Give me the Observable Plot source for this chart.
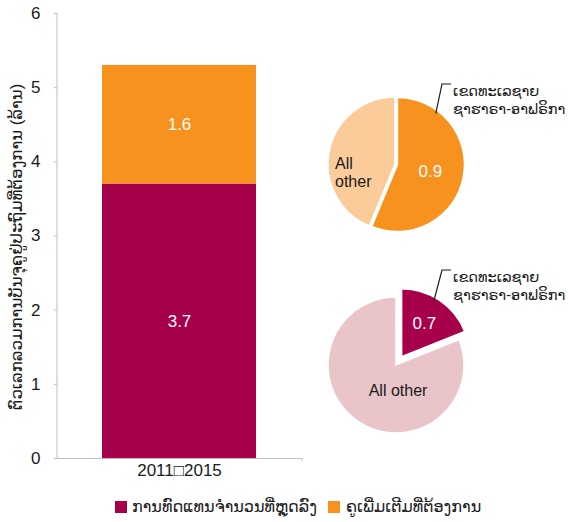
<!DOCTYPE html>
<html><head><meta charset="utf-8">
<script src="https://cdn.jsdelivr.net/npm/d3@7"></script>
<script src="https://cdn.jsdelivr.net/npm/@observablehq/plot@0.6"></script>
<style>
body{margin:0;background:#fff;font-family:"Liberation Sans","DejaVu Sans",sans-serif;color:#1a1a1a;}
#wrap{position:relative;width:568px;height:522px;overflow:hidden;}
#wrap svg{display:block;}
.sw{position:absolute;width:12px;height:12px;}
.lt{position:absolute;font-size:16px;line-height:16px;white-space:nowrap;}
</style></head><body><div id="wrap"></div><script>
// ---- data ----
const categories = ["2011\u25A12015"];
const seriesNames = ["ການທົດແທນຈຳນວນທີ່ຫຼຸດລົງ", "ຄູເພີ່ມເຕີມທີ່ຕ້ອງການ"];
const replacementValues = [3.7];
const additionalValues = [1.6];
const yTicks = [0, 1, 2, 3, 4, 5, 6];
const yLabel = "ຕົວເລກລວມການບັນຈຸຄູຢູ່ປະຖົມທີ່ຕ້ອງການ (ລ້ານ)";
const pieRegionLabel = ["ເຂດທະເລຊາຍ", "ຊາຮາຣາ-ອາຟຣິກາ"];
const otherLabel = "All other";
const additionalPie = [0.9, 0.7];   // sub-Saharan Africa, all other
const replacementPie = [0.7, 3.0];  // sub-Saharan Africa, all other
const colors = ["#a6004a", "#f7921e"];
const lightColors = ["#e9c4c9", "#fccb9a"];

// ---- layout ----
const W = 568, H = 488, ML = 57, MR = 266, MT = 13, MB = 30;
const FONT = '"Liberation Sans","DejaVu Sans",sans-serif';

const rows = categories.flatMap((c, i) => [
  {cat: c, series: seriesNames[0], value: replacementValues[i]},
  {cat: c, series: seriesNames[1], value: additionalValues[i]}
]);
const labelRows = categories.flatMap((c, i) => {
  const a = replacementValues[i], b = additionalValues[i];
  return [{cat: c, value: a, mid: a / 2}, {cat: c, value: b, mid: a + b / 2}];
});

function pieMark() {
  const g = d3.create("svg:g");
  // vertical y-axis line and right-end x tick (Excel style)
  g.append("line").attr("x1", ML).attr("x2", ML).attr("y1", MT).attr("y2", H - MB)
    .attr("stroke", "#bfbfbf");
  g.append("line").attr("x1", W - MR).attr("x2", W - MR).attr("y1", H - MB).attr("y2", H - MB + 3)
    .attr("stroke", "#bfbfbf");
  // y-axis title
  g.append("text").attr("transform", `translate(16,247) rotate(-90)`)
    .attr("text-anchor", "middle").attr("dy", "0.35em")
    .attr("font-size", 16.5).attr("font-family", FONT).attr("fill", "#1a1a1a")
    .text(yLabel);

  const specs = [
    {values: additionalPie, fills: [colors[1], lightColors[1]], cx: 395, cy: 164, r: 67, explode: 2.5,
     valueLabel: {r: 0.5}, other: {dx: -60, dy: 8, lines: ["All", "other"], anchor: "start"},
     lead: {r: 0.95, angle: 37, ex: 442, ey: 84}},
    {values: replacementPie, fills: [colors[0], lightColors[0]], cx: 396, cy: 365, r: 68, explode: 10,
     valueLabel: {r: 0.6}, other: {dx: 2, dy: 25, lines: [otherLabel], anchor: "middle"},
     lead: {r: 0.95, angle: 30, ex: 442, ey: 270}}
  ];
  for (const s of specs) {
    const arcs = d3.pie().sort(null)(s.values);
    const arc = d3.arc().innerRadius(0).outerRadius(s.r);
    const pg = g.append("g").attr("transform", `translate(${s.cx},${s.cy})`);
    arcs.forEach((a, i) => {
      const mid = (a.startAngle + a.endAngle) / 2;
      const off = i === 0 ? s.explode : 0;
      const ox = Math.sin(mid) * off, oy = -Math.cos(mid) * off;
      const sg = pg.append("g").attr("transform", `translate(${ox},${oy})`);
      sg.append("path").attr("d", arc(a)).attr("fill", s.fills[i])
        .attr("stroke", "white").attr("stroke-width", 1.5).attr("stroke-linejoin", "miter");
      if (i === 0) {
        const lr = s.r * s.valueLabel.r;
        sg.append("text").attr("x", Math.sin(mid) * lr).attr("y", -Math.cos(mid) * lr)
          .attr("text-anchor", "middle").attr("dy", "0.35em")
          .attr("fill", "white").attr("font-size", 17).attr("font-family", FONT)
          .text(a.value.toFixed(1));
        // leader line
        const la = s.lead.angle * Math.PI / 180;
        const px = s.cx + ox + Math.sin(la) * s.r * s.lead.r;
        const py = s.cy + oy - Math.cos(la) * s.r * s.lead.r;
        g.append("polyline").attr("points", `${px},${py} ${s.lead.ex},${s.lead.ey} ${s.lead.ex + 9},${s.lead.ey}`)
          .attr("fill", "none").attr("stroke", "#1a1a1a").attr("stroke-width", 1.2);
        const t = g.append("text").attr("x", s.lead.ex + 11).attr("y", s.lead.ey)
          .attr("text-anchor", "start")
          .attr("font-size", 14.5).attr("font-family", FONT).attr("fill", "#1a1a1a");
        pieRegionLabel.forEach((ln, k) => t.append("tspan").attr("x", s.lead.ex + 11)
          .attr("y", s.lead.ey + 7 + k * 18).attr("dy", "0.35em").text(ln));
      }
    });
    const ot = pg.append("text").attr("font-size", 16).attr("font-family", FONT)
      .attr("fill", "#1a1a1a").attr("text-anchor", s.other.anchor);
    const n = s.other.lines.length;
    s.other.lines.forEach((ln, k) => ot.append("tspan").attr("x", s.other.dx)
      .attr("y", s.other.dy + (k - (n - 1) / 2) * 18).attr("dy", "0.35em").text(ln));
  }
  return g.node();
}

const chart = Plot.plot({
  width: W, height: H,
  marginLeft: ML, marginRight: MR, marginTop: MT, marginBottom: MB,
  style: {fontSize: "17px", fontFamily: FONT, color: "#1a1a1a", background: "white", overflow: "visible"},
  x: {domain: categories, padding: 0.225, label: null},
  y: {domain: [0, 6], label: null},
  color: {domain: seriesNames, range: colors},
  marks: [
    Plot.barY(rows, {x: "cat", y: "value", fill: "series"}),
    Plot.text(labelRows, {x: "cat", y: "mid", text: d => d.value.toFixed(1), fill: "white", fontSize: 17}),
    Plot.ruleY([0], {stroke: "#bfbfbf"}),
    Plot.axisY({ticks: yTicks, tickFormat: d => String(d), tickSize: 3, tickPadding: 14, stroke: "#bfbfbf", fill: "#1a1a1a", label: null}),
    Plot.axisX({tickSize: 0, tickPadding: 5, fill: "#1a1a1a", label: null}),
    pieMark
  ]
});
const wrap = document.getElementById("wrap");
wrap.appendChild(chart);

// legend
const legendPos = [{sx: 115, tx: 132}, {sx: 328, tx: 346}];
seriesNames.forEach((name, i) => {
  const sw = document.createElement("div");
  sw.className = "sw";
  sw.style.left = legendPos[i].sx + "px"; sw.style.top = "501px"; sw.style.background = colors[i];
  wrap.appendChild(sw);
  const t = document.createElement("div");
  t.className = "lt";
  t.style.left = legendPos[i].tx + "px"; t.style.top = "499px";
  t.textContent = name;
  wrap.appendChild(t);
});
</script></body></html>
